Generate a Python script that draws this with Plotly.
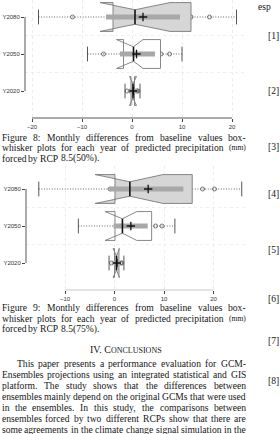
import plotly.graph_objects as go

W, H = 280, 434

# ---------------- data ----------------
cats = ["Y2020", "Y2050", "Y2080"]

# Figure 8 : RCP 8.5 (50%)
top_min = [-1.4, -8.9, -18.7]
top_max = [1.6, 10.0, 20.9]
top_q1 = [-0.2, -1.7, -3.8]
top_med = [0.2, 0.3, 0.6]
top_q3 = [0.5, 5.7, 11.8]
top_nlo = [-0.5, -3.1, -6.4]
top_nhi = [0.9, 2.2, 7.6]
top_barlo = [-0.6, -2.4, -5.2]
top_barhi = [1.0, 4.6, 9.6]
top_mean = [0.3, 0.9, 2.2]
top_pts = [[-1.0, 1.0, 1.2], [-5.7, 5.8, 7.5], [-11.9, 11.8, 15.5]]
top_ticks = [-20, -10, 0, 10, 20]

# Figure 9 : RCP 8.5 (75%)
bot_min = [-1.1, -7.3, -15.3]
bot_max = [1.9, 12.2, 25.7]
bot_q1 = [0.0, 0.1, 0.1]
bot_med = [0.4, 1.6, 3.1]
bot_q3 = [0.9, 7.5, 15.7]
bot_nlo = [-0.3, -1.9, -3.9]
bot_nhi = [1.0, 4.5, 9.8]
bot_barlo = [-0.2, -0.2, -0.9]
bot_barhi = [1.1, 6.7, 13.9]
bot_mean = [0.5, 3.3, 6.8]
bot_pts = [[-0.6, 1.3, 1.5], [8.3, 9.6], [-0.9, 17.8, 20.2]]
bot_ticks = [-10, 0, 10, 20]

box_fill = ["#d6d6d6", "#ffffff", "#d6d6d6"]

caption8 = ["Figure 8: Monthly differences from baseline values box-",
            "whisker plots for each year of predicted precipitation (mm)",
            "forced by RCP 8.5(50%)."]
caption9 = ["Figure 9: Monthly differences from baseline values box-",
            "whisker plots for each year of predicted precipitation (mm)",
            "forced by RCP 8.5(75%)."]
paragraph = ["This paper presents a performance evaluation for GCM-",
             "Ensembles projections using an integrated statistical and GIS",
             "platform. The study shows that the differences between",
             "ensembles mainly depend on the original GCMs that were used",
             "in the ensembles. In this study, the comparisons between",
             "ensembles forced by two different RCPs show that there are",
             "some agreements in the climate change signal simulation in the"]
refs = ["[1]", "[2]", "[3]", "[4]", "[5]", "[6]", "[7]", "[8]"]
ref_y = [36, 90, 146, 194, 250, 298, 340, 380]

# ---------------- helpers ----------------
def px(x):
    return x / W

def py(y):
    return 1 - y / H

HALF = 0.39   # half box height in category units
CAP = 0.2

def add_boxes(fig, xa, ya, mn, mx, q1, med, q3, nlo, nhi, blo, bhi, mean, pts):
    for i in range(len(cats)):
        yc = i
        fig.add_trace(go.Scatter(x=[mn[i], mx[i]], y=[yc, yc], mode="lines",
                                 line=dict(color="#555", width=0.9, dash="1px,1.6px"),
                                 xaxis=xa, yaxis=ya, hoverinfo="skip"))
        fig.add_trace(go.Scatter(x=[mn[i], mn[i], None, mx[i], mx[i]],
                                 y=[yc - CAP, yc + CAP, None, yc - CAP, yc + CAP],
                                 mode="lines", line=dict(color="#444", width=0.9),
                                 xaxis=xa, yaxis=ya, hoverinfo="skip"))
        fig.add_trace(go.Scatter(x=pts[i], y=[yc] * len(pts[i]), mode="markers",
                                 marker=dict(symbol="circle-open", size=4,
                                             color="#555", line=dict(width=0.8)),
                                 xaxis=xa, yaxis=ya, hoverinfo="skip"))
        xs = [q1[i], nlo[i], med[i], nhi[i], q3[i], q3[i], nhi[i], med[i], nlo[i], q1[i], q1[i]]
        ys = [yc - HALF, yc - HALF, yc - HALF / 2, yc - HALF, yc - HALF,
              yc + HALF, yc + HALF, yc + HALF / 2, yc + HALF, yc + HALF, yc - HALF]
        fig.add_trace(go.Scatter(x=xs, y=ys, mode="lines", fill="toself",
                                 fillcolor=box_fill[i], line=dict(color="#7a7a7a", width=0.9),
                                 xaxis=xa, yaxis=ya, hoverinfo="skip"))
        fig.add_trace(go.Scatter(x=[blo[i], bhi[i]], y=[yc, yc], mode="lines",
                                 line=dict(color="#a8a8a8", width=5),
                                 xaxis=xa, yaxis=ya, hoverinfo="skip"))
        fig.add_trace(go.Scatter(x=[med[i], med[i]], y=[yc - HALF / 2, yc + HALF / 2],
                                 mode="lines", line=dict(color="#111", width=1.6),
                                 xaxis=xa, yaxis=ya, hoverinfo="skip"))
        fig.add_trace(go.Scatter(x=[mean[i]], y=[yc], mode="markers",
                                 marker=dict(symbol="cross-thin", size=6,
                                             line=dict(color="#111", width=1.3)),
                                 xaxis=xa, yaxis=ya, hoverinfo="skip"))

# Times metrics (per 1000 em)
TW = dict(zip("abcdefghijklmnopqrstuvwxyz",
              [444, 500, 444, 500, 444, 333, 500, 500, 278, 278, 500, 278, 778,
               500, 500, 500, 500, 333, 389, 278, 500, 500, 722, 500, 500, 444]))
TW.update(dict(zip("ABCDEFGHIJKLMNOPQRSTUVWXYZ",
                   [722, 667, 667, 722, 611, 556, 722, 722, 333, 389, 722, 611, 889,
                    722, 722, 556, 722, 667, 556, 611, 722, 722, 944, 722, 722, 611])))
TW.update({c: 500 for c in "0123456789"})
TW.update({" ": 250, ".": 250, ",": 250, ":": 278, ";": 278, "-": 333,
           "(": 333, ")": 333, "%": 833, "[": 333, "]": 333})

def tw(s, size):
    return sum(TW.get(c, 500) for c in s) * size / 1000.0

ann = []
FS = 9.6
SERIF = "Liberation Serif, Times New Roman, serif"

def put(text, x, y, size, anchor="left", color="#161616", family=SERIF):
    ann.append(dict(text=text, x=px(x), y=py(y), xref="paper", yref="paper",
                    xanchor=anchor, yanchor="middle", showarrow=False, borderpad=0,
                    font=dict(family=family, size=size, color=color)))

def line(text, x0, x1, y, justify=True, size=FS):
    words = text.split(" ")
    sizes = [7.6 if w == "(mm)" else size for w in words]
    widths = [tw(w, s) for w, s in zip(words, sizes)]
    if justify and len(words) > 1:
        gap = (x1 - x0 - sum(widths)) / (len(words) - 1)
    else:
        gap = 0.25 * size
    x = x0
    for w, s, wd in zip(words, sizes, widths):
        put(w, x, y, s)
        x += wd + gap

X0, X1 = 0.5, 245
LH = 10.6

for k, t in enumerate(caption8):
    line(t, X0, X1, 137 + k * LH, justify=(k < 2))
for k, t in enumerate(caption9):
    line(t, X0, X1, 307.5 + k * LH, justify=(k < 2))
put("IV. C<span style='font-size:8px'>ONCLUSIONS</span>", 126, 349, 10, anchor="center")
for k, t in enumerate(paragraph):
    line(t, 16 if k == 0 else X0, X1, 363.5 + k * 11.0, justify=True)
for r, y in zip(refs, ref_y):
    put(r, 267, y, FS)
put("esp", 257, 7, FS)

# ---------------- figure ----------------
fig = go.Figure()
add_boxes(fig, "x", "y", top_min, top_max, top_q1, top_med, top_q3, top_nlo, top_nhi,
          top_barlo, top_barhi, top_mean, top_pts)
add_boxes(fig, "x2", "y2", bot_min, bot_max, bot_q1, bot_med, bot_q3, bot_nlo, bot_nhi,
          bot_barlo, bot_barhi, bot_mean, bot_pts)

tickfont = dict(family="Liberation Sans, Arial, sans-serif", size=6, color="#333")
common_x = dict(ticks="outside", ticklen=3, tickwidth=0.8, tickcolor="#444",
                tickfont=tickfont, showline=False, zeroline=False,
                showgrid=True, gridcolor="#ececec", gridwidth=0.8, griddash="dot")
common_y = dict(ticks="outside", ticklen=3, tickwidth=0.8, tickcolor="#444",
                tickfont=tickfont, showline=False, zeroline=False, showgrid=False,
                tickvals=list(range(len(cats))), ticktext=cats,
                minor=dict(tickvals=[0.5, 1.5], showgrid=True, gridcolor="#efefef",
                           griddash="dot", ticks=""))

fig.update_layout(
    width=W, height=H, margin=dict(l=0, r=0, t=0, b=0),
    paper_bgcolor="white", plot_bgcolor="white", showlegend=False,
    xaxis=dict(domain=[px(25), px(245)], range=[-21.4, 22.6], tickvals=top_ticks,
               anchor="y", **common_x),
    yaxis=dict(domain=[py(118), 1.0], range=[-27 / 37, 2 + 17 / 37], anchor="x", **common_y),
    xaxis2=dict(domain=[px(26), px(245)], range=[(26 - 114.5) / 4.95, (245 - 114.5) / 4.95],
                tickvals=bot_ticks, anchor="y2", **common_x),
    yaxis2=dict(domain=[py(290), py(166)], range=[-27 / 37, 2 + 23 / 37], anchor="x2", **common_y),
    annotations=ann,
)

fig.add_shape(type="line", xref="x", yref="y domain", x0=top_ticks[0], x1=top_ticks[-1],
              y0=0, y1=0, line=dict(color="#444", width=0.9))
fig.add_shape(type="line", xref="x domain", yref="y", x0=0, x1=0, y0=0, y1=len(cats) - 1,
              line=dict(color="#444", width=0.9))
fig.add_shape(type="line", xref="x2", yref="y2 domain", x0=bot_ticks[0], x1=bot_ticks[-1],
              y0=0, y1=0, line=dict(color="#bbb", width=0.8))
fig.add_shape(type="line", xref="x2 domain", yref="y2", x0=0, x1=0, y0=0, y1=len(cats) - 1,
              line=dict(color="#444", width=0.9))

fig.write_html("out.html")
